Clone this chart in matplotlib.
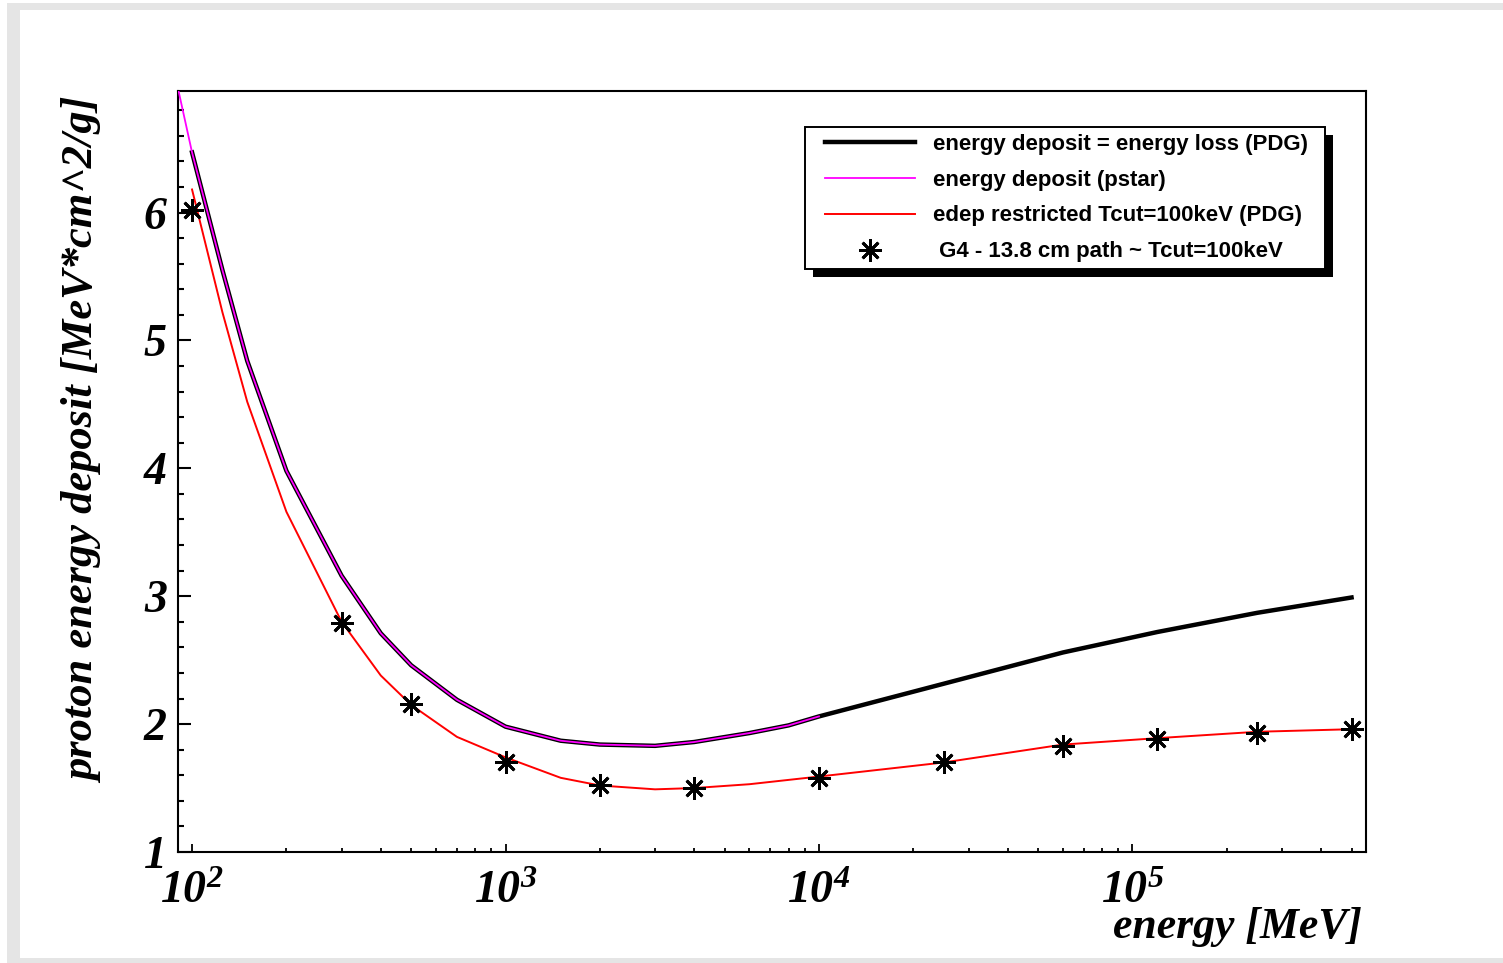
import math
import matplotlib
matplotlib.use("Agg")
import matplotlib.pyplot as plt
from matplotlib.patches import Rectangle
from matplotlib.ticker import FixedLocator, FuncFormatter, MultipleLocator
from matplotlib.legend_handler import HandlerLine2D

# energy loss (PDG), full range
e_pdg = [100, 125, 150, 200, 300, 400, 500, 700, 1000, 1500, 2000, 3000, 4000, 6000, 8000,
         10000, 60000, 120000, 250000, 500000]
dedx_pdg = [6.47, 5.55, 4.84, 3.98, 3.16, 2.71, 2.46, 2.19, 1.98, 1.87, 1.84, 1.83, 1.86, 1.93, 1.99,
            2.06, 2.56, 2.72, 2.87, 2.99]

# pstar, up to 10 GeV
e_pstar = [90, 100, 125, 150, 200, 300, 400, 500, 700, 1000, 1500, 2000, 3000, 4000, 6000, 8000, 10000]
dedx_pstar = [6.98, 6.47, 5.55, 4.84, 3.98, 3.16, 2.71, 2.46, 2.19, 1.98, 1.87, 1.84, 1.83, 1.86,
              1.93, 1.99, 2.06]

# restricted energy loss, Tcut = 100 keV
e_restr = [100, 125, 150, 200, 300, 400, 500, 700, 1000, 1500, 2000, 3000, 4000, 6000, 10000,
           25000, 60000, 120000, 250000, 500000]
dedx_restr = [6.18, 5.22, 4.52, 3.66, 2.80, 2.38, 2.15, 1.90, 1.74, 1.58, 1.52, 1.49, 1.50, 1.53, 1.59,
              1.70, 1.84, 1.89, 1.94, 1.96]

# Geant4 points
e_g4 = [100, 300, 500, 1000, 2000, 4000, 10000, 25000, 60000, 120000, 250000, 500000]
edep_g4 = [6.02, 2.79, 2.16, 1.70, 1.52, 1.50, 1.58, 1.70, 1.83, 1.88, 1.93, 1.96]

labels = ["energy deposit = energy loss (PDG)", "energy deposit (pstar)",
          "edep restricted Tcut=100keV (PDG)", " G4 - 13.8 cm path ~ Tcut=100keV"]

plt.rcParams["font.family"] = "Liberation Serif"
plt.rcParams["font.style"] = "italic"
plt.rcParams["font.weight"] = "bold"
plt.rcParams["mathtext.fontset"] = "custom"
plt.rcParams["mathtext.bf"] = "Liberation Serif:italic:bold"
plt.rcParams["mathtext.rm"] = "Liberation Serif:italic:bold"
plt.rcParams["mathtext.it"] = "Liberation Serif:italic:bold"

W, H = 1503, 963
fig = plt.figure(figsize=(W / 100, H / 100), dpi=100)
fig.patch.set_facecolor("white")


def px(x0, y0, w, h):
    # pixel box (top-left origin) -> figure fraction
    return (x0 / W, 1 - (y0 + h) / H, w / W, h / H)


gray = "#e5e5e5"
for box in [(7, 3, W - 7, 7), (7, 3, 13, H - 3), (7, 958, W - 7, 5)]:
    l, b, w, h = px(*box)
    fig.add_artist(Rectangle((l, b), w, h, transform=fig.transFigure, color=gray, lw=0, zorder=0))

ax = fig.add_axes(px(178, 91, 1188, 761))
ax.set_xscale("log")
ax.set_xlim(90.2, 5.56e5)
ax.set_ylim(1, 6.95)

ax.plot(e_pdg, dedx_pdg, color="black", lw=3.2, label=labels[0], zorder=2)
ax.plot(e_pstar, dedx_pstar, color="magenta", lw=1.3, label=labels[1], zorder=3)
ax.plot(e_restr, dedx_restr, color="red", lw=1.4, label=labels[2], zorder=2)
ax.plot(e_g4, edep_g4, ls="none", marker=(8, 2, 0), ms=16, mew=2, color="black",
        label=labels[3], zorder=4)

for s in ax.spines.values():
    s.set_linewidth(1.5)

ax.xaxis.set_major_locator(FixedLocator([1e2, 1e3, 1e4, 1e5]))
ax.xaxis.set_major_formatter(FuncFormatter(lambda v, p: r"$\mathbf{10^{%d}}$" % round(math.log10(v))))
ax.yaxis.set_major_locator(MultipleLocator(1))
ax.yaxis.set_minor_locator(MultipleLocator(0.2))
ax.yaxis.set_major_formatter(FuncFormatter(lambda v, p: "%d" % v))

ax.tick_params(axis="x", which="major", direction="in", length=6, width=1.3, pad=14, labelsize=33)
ax.tick_params(axis="x", which="minor", direction="in", length=3, width=1.3)
ax.tick_params(axis="y", which="major", direction="in", length=9, width=1.5, pad=8, labelsize=33)
ax.tick_params(axis="y", which="minor", direction="in", length=4.5, width=1.5)

fig.text(84 / W, 1 - 98 / H, "proton energy deposit [MeV*cm^2/g]", rotation=90,
         ha="center", va="top", fontsize=32)
fig.text(1362 / W, 1 - 907 / H, "energy [MeV]", ha="right", va="top", fontsize=31.5)

fs = 16
hmap = {h: HandlerLine2D(numpoints=1, xpad=0.6) for h in ax.get_lines()}
leg = ax.legend(loc="upper left", bbox_to_anchor=px(805, 127, 520, 142), bbox_transform=fig.transFigure,
                mode="expand", borderaxespad=0, borderpad=0.3, handlelength=4.65, handletextpad=0.8,
                labelspacing=0.67, fancybox=False, framealpha=1, edgecolor="black",
                prop={"family": "Liberation Sans", "weight": "bold", "style": "normal", "size": fs},
                handler_map=hmap)
leg.get_frame().set_linewidth(1.4)
leg.set_zorder(10)

fig.canvas.draw()
bb = leg.get_frame().get_window_extent()
off = 8
sh = Rectangle(((bb.x0 + off) / W, (bb.y0 - off) / H), bb.width / W, bb.height / H,
               transform=fig.transFigure, color="black", lw=0, zorder=9, clip_on=False)
ax.add_artist(sh)

fig.savefig("out.png", dpi=100, facecolor=fig.get_facecolor())
